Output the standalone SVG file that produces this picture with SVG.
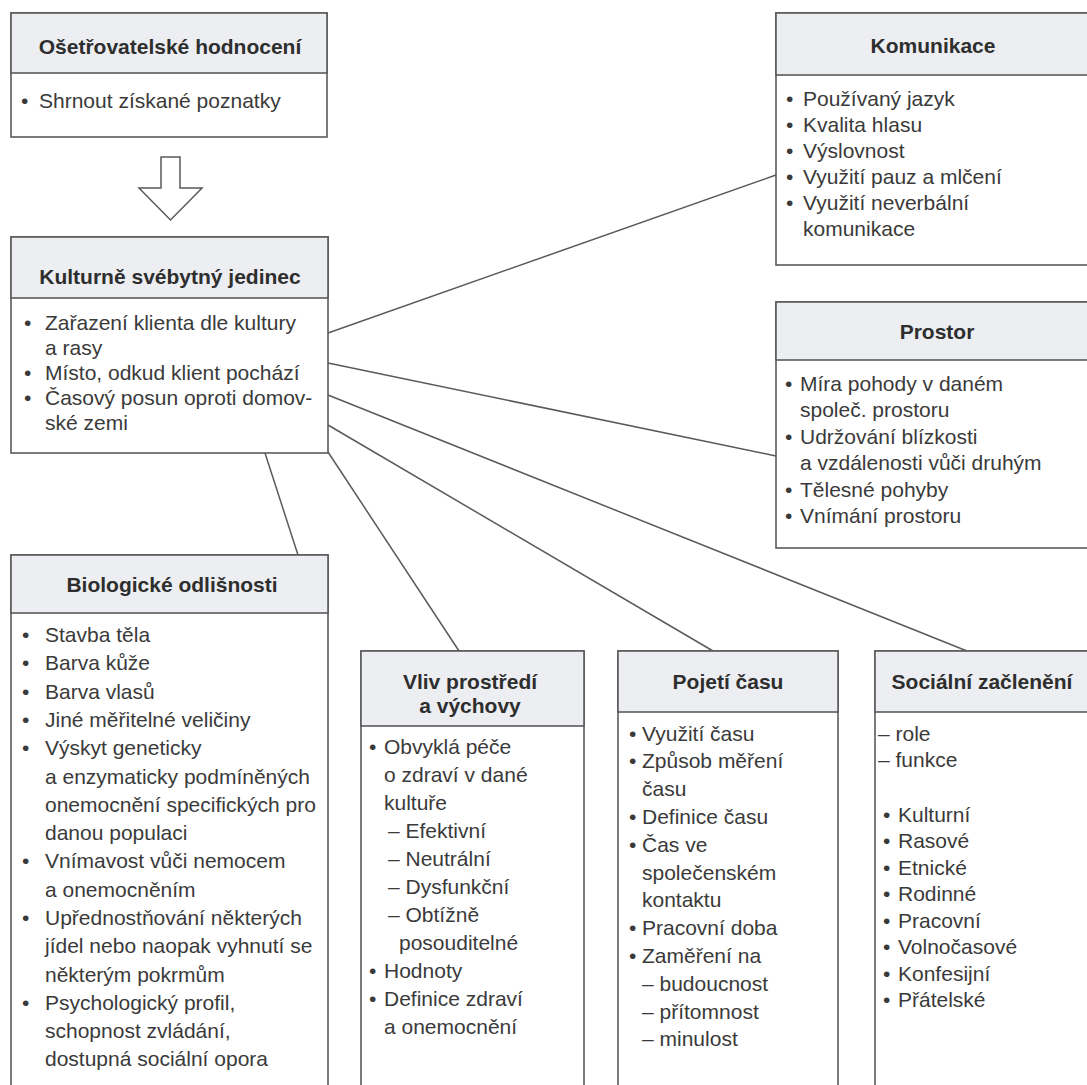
<svg xmlns="http://www.w3.org/2000/svg" width="1087" height="1085" viewBox="0 0 1087 1085">
<style>
.bx{fill:#ffffff;stroke:#5a5a5a;stroke-width:1.6}
.hd{fill:#eceef2;stroke:#5a5a5a;stroke-width:1.6}
.t{font-family:"Liberation Sans",Arial,sans-serif;font-size:21px;font-weight:bold;fill:#2e2e2e;text-anchor:middle}
.i{font-family:"Liberation Sans",Arial,sans-serif;font-size:21px;fill:#3a3a3a}
.c{fill:none;stroke:#5a5a5a;stroke-width:1.5}
</style>
<rect width="1087" height="1085" fill="#ffffff"/>
<g id="connectors">
<polygon class="c" points="161,157 180,157 180,188 202,188 170.5,220 139,188 161,188" fill="#ffffff"/>
<line class="c" x1="328" y1="333" x2="776" y2="175"/>
<line class="c" x1="328" y1="363" x2="776" y2="456"/>
<line class="c" x1="328" y1="395" x2="967" y2="651"/>
<line class="c" x1="328" y1="425" x2="713" y2="651"/>
<line class="c" x1="328" y1="452" x2="459" y2="651"/>
<line class="c" x1="265" y1="453" x2="298" y2="555"/>
</g>
<g id="hodnoceni">
<rect class="bx" x="11" y="13" width="316" height="124"/>
<rect class="hd" x="11" y="13" width="316" height="60"/>
<text class="t" x="170" y="54">Ošetřovatelské hodnocení</text>
<text class="i" x="21" y="108">•</text><text class="i" x="39" y="108">Shrnout získané poznatky</text>
</g>
<g id="jedinec">
<rect class="bx" x="11" y="237" width="317" height="216"/>
<rect class="hd" x="11" y="237" width="317" height="61"/>
<text class="t" x="170" y="284">Kulturně svébytný jedinec</text>
<text class="i" x="24" y="330">•</text><text class="i" x="45" y="330">Zařazení klienta dle kultury</text>
<text class="i" x="45" y="355">a rasy</text>
<text class="i" x="24" y="380">•</text><text class="i" x="45" y="380">Místo, odkud klient pochází</text>
<text class="i" x="24" y="405">•</text><text class="i" x="45" y="405">Časový posun oproti domov-</text>
<text class="i" x="45" y="430">ské zemi</text>
</g>
<g id="komunikace">
<rect class="bx" x="776" y="13" width="312" height="252"/>
<rect class="hd" x="776" y="13" width="312" height="62"/>
<text class="t" x="933" y="53">Komunikace</text>
<text class="i" x="786" y="106">•</text><text class="i" x="803" y="106">Používaný jazyk</text>
<text class="i" x="786" y="132">•</text><text class="i" x="803" y="132">Kvalita hlasu</text>
<text class="i" x="786" y="158">•</text><text class="i" x="803" y="158">Výslovnost</text>
<text class="i" x="786" y="184">•</text><text class="i" x="803" y="184">Využití pauz a mlčení</text>
<text class="i" x="786" y="210">•</text><text class="i" x="803" y="210">Využití neverbální</text>
<text class="i" x="803" y="236">komunikace</text>
</g>
<g id="prostor">
<rect class="bx" x="776" y="302" width="312" height="246"/>
<rect class="hd" x="776" y="302" width="312" height="58"/>
<text class="t" x="937" y="339">Prostor</text>
<text class="i" x="785" y="391">•</text><text class="i" x="800" y="391">Míra pohody v daném</text>
<text class="i" x="800" y="417">společ. prostoru</text>
<text class="i" x="785" y="444">•</text><text class="i" x="800" y="444">Udržování blízkosti</text>
<text class="i" x="800" y="470">a vzdálenosti vůči druhým</text>
<text class="i" x="785" y="497">•</text><text class="i" x="800" y="497">Tělesné pohyby</text>
<text class="i" x="785" y="523">•</text><text class="i" x="800" y="523">Vnímání prostoru</text>
</g>
<g id="biologicke">
<rect class="bx" x="11" y="555" width="317" height="540"/>
<rect class="hd" x="11" y="555" width="317" height="58"/>
<text class="t" x="172" y="592">Biologické odlišnosti</text>
<text class="i" x="22" y="642">•</text><text class="i" x="45" y="642">Stavba těla</text>
<text class="i" x="22" y="670">•</text><text class="i" x="45" y="670">Barva kůže</text>
<text class="i" x="22" y="699">•</text><text class="i" x="45" y="699">Barva vlasů</text>
<text class="i" x="22" y="727">•</text><text class="i" x="45" y="727">Jiné měřitelné veličiny</text>
<text class="i" x="22" y="755">•</text><text class="i" x="45" y="755">Výskyt geneticky</text>
<text class="i" x="45" y="784">a enzymaticky podmíněných</text>
<text class="i" x="45" y="812">onemocnění specifických pro</text>
<text class="i" x="45" y="840">danou populaci</text>
<text class="i" x="22" y="868">•</text><text class="i" x="45" y="868">Vnímavost vůči nemocem</text>
<text class="i" x="45" y="897">a onemocněním</text>
<text class="i" x="22" y="925">•</text><text class="i" x="45" y="925">Upřednostňování některých</text>
<text class="i" x="45" y="953">jídel nebo naopak vyhnutí se</text>
<text class="i" x="45" y="982">některým pokrmům</text>
<text class="i" x="22" y="1010">•</text><text class="i" x="45" y="1010">Psychologický profil,</text>
<text class="i" x="45" y="1038">schopnost zvládání,</text>
<text class="i" x="45" y="1066">dostupná sociální opora</text>
</g>
<g id="vliv">
<rect class="bx" x="361" y="651" width="223" height="444"/>
<rect class="hd" x="361" y="651" width="223" height="75"/>
<text class="t" x="470" y="689">Vliv prostředí</text>
<text class="t" x="470" y="713">a výchovy</text>
<text class="i" x="369" y="754">•</text><text class="i" x="384" y="754">Obvyklá péče</text>
<text class="i" x="384" y="782">o zdraví v dané</text>
<text class="i" x="384" y="810">kultuře</text>
<text class="i" x="388" y="838">– Efektivní</text>
<text class="i" x="388" y="866">– Neutrální</text>
<text class="i" x="388" y="894">– Dysfunkční</text>
<text class="i" x="388" y="922">– Obtížně</text>
<text class="i" x="399" y="950">posouditelné</text>
<text class="i" x="369" y="978">•</text><text class="i" x="384" y="978">Hodnoty</text>
<text class="i" x="369" y="1006">•</text><text class="i" x="384" y="1006">Definice zdraví</text>
<text class="i" x="384" y="1034">a onemocnění</text>
</g>
<g id="cas">
<rect class="bx" x="618" y="651" width="220" height="444"/>
<rect class="hd" x="618" y="651" width="220" height="61"/>
<text class="t" x="728" y="689">Pojetí času</text>
<text class="i" x="629" y="741">•</text><text class="i" x="642" y="741">Využití času</text>
<text class="i" x="629" y="768">•</text><text class="i" x="642" y="768">Způsob měření</text>
<text class="i" x="642" y="796">času</text>
<text class="i" x="629" y="824">•</text><text class="i" x="642" y="824">Definice času</text>
<text class="i" x="629" y="852">•</text><text class="i" x="642" y="852">Čas ve</text>
<text class="i" x="642" y="880">společenském</text>
<text class="i" x="642" y="907">kontaktu</text>
<text class="i" x="629" y="935">•</text><text class="i" x="642" y="935">Pracovní doba</text>
<text class="i" x="629" y="963">•</text><text class="i" x="642" y="963">Zaměření na</text>
<text class="i" x="642" y="991">– budoucnost</text>
<text class="i" x="642" y="1019">– přítomnost</text>
<text class="i" x="642" y="1046">– minulost</text>
</g>
<g id="socialni">
<rect class="bx" x="875" y="651" width="215" height="444"/>
<rect class="hd" x="875" y="651" width="215" height="61"/>
<text class="t" x="982" y="689">Sociální začlenění</text>
<text class="i" x="878" y="741">– role</text>
<text class="i" x="878" y="767">– funkce</text>
<text class="i" x="883" y="822">•</text><text class="i" x="898" y="822">Kulturní</text>
<text class="i" x="883" y="848">•</text><text class="i" x="898" y="848">Rasové</text>
<text class="i" x="883" y="875">•</text><text class="i" x="898" y="875">Etnické</text>
<text class="i" x="883" y="901">•</text><text class="i" x="898" y="901">Rodinné</text>
<text class="i" x="883" y="928">•</text><text class="i" x="898" y="928">Pracovní</text>
<text class="i" x="883" y="954">•</text><text class="i" x="898" y="954">Volnočasové</text>
<text class="i" x="883" y="981">•</text><text class="i" x="898" y="981">Konfesijní</text>
<text class="i" x="883" y="1007">•</text><text class="i" x="898" y="1007">Přátelské</text>
</g>
</svg>
